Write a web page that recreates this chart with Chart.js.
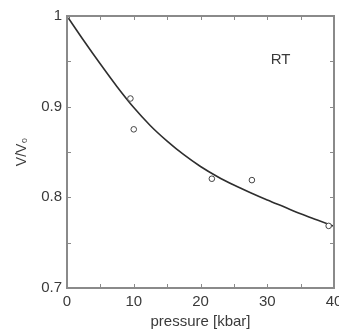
<!DOCTYPE html>
<html>
<head>
<meta charset="utf-8">
<script src="https://cdn.jsdelivr.net/npm/chart.js@4.4.1/dist/chart.umd.min.js"></script>
<style>
html,body{margin:0;padding:0;background:#fff;}
#wrap{width:339px;height:329px;position:relative;}
</style>
</head>
<body>
<div id="wrap"><canvas id="c" width="339" height="329"></canvas></div>
<script>
// Measured data (open circles)
const dataPressure = [0, 9.5, 10, 21.7, 27.7, 39.2];
const dataVolume   = [1.0, 0.909, 0.875, 0.8205, 0.819, 0.7685];
// Fit curve
const fitPressure = [0, 2.5, 5, 7.5, 10, 12.5, 15, 17.5, 20, 22.5, 25, 27.5, 30, 32.5, 35, 37.5, 40];
const fitVolume   = [1.000, 0.973, 0.947, 0.922, 0.899, 0.879, 0.862, 0.847, 0.834, 0.823, 0.8135, 0.805, 0.797, 0.7895, 0.782, 0.775, 0.768];
// Axes
const xRange = [0, 40];
const yRange = [0.7, 1.0];
const xTitle = 'pressure [kbar]';
const yTitle = 'V/V\u2080';
const annotationText = 'RT';
const annotationPos = [32, 0.952];

const fontFam = '"Liberation Sans", Arial, sans-serif';
const axisGray = '#8a8a8a';
const textCol = '#3a3a3a';

const framePlugin = {
  id: 'frame',
  afterDatasetsDraw(chart) {
    const {ctx, chartArea: a, scales: {x, y}} = chart;
    ctx.save();
    ctx.strokeStyle = axisGray;
    ctx.lineWidth = 2;
    ctx.strokeRect(a.left, a.top, a.right - a.left, a.bottom - a.top);
    ctx.lineWidth = 1;
    ctx.beginPath();
    const tl = 4;
    for (let v = xRange[0] + 5; v < xRange[1]; v += 5) {
      const px = Math.round(x.getPixelForValue(v)) + 0.5;
      ctx.moveTo(px, a.bottom); ctx.lineTo(px, a.bottom - tl);
      ctx.moveTo(px, a.top); ctx.lineTo(px, a.top + tl);
    }
    for (let i = 1; i < 6; i++) {
      const v = yRange[0] + i * 0.05;
      const py = Math.round(y.getPixelForValue(v)) + 0.5;
      ctx.moveTo(a.left, py); ctx.lineTo(a.left + tl, py);
      ctx.moveTo(a.right, py); ctx.lineTo(a.right - tl, py);
    }
    ctx.stroke();
    ctx.fillStyle = textCol;
    ctx.font = '15px ' + fontFam;
    ctx.textAlign = 'center';
    ctx.textBaseline = 'middle';
    ctx.fillText(annotationText, x.getPixelForValue(annotationPos[0]), y.getPixelForValue(annotationPos[1]));
    ctx.restore();
  }
};

new Chart(document.getElementById('c'), {
  type: 'scatter',
  data: {
    datasets: [
      {
        label: 'fit',
        data: fitPressure.map((p, i) => ({x: p, y: fitVolume[i]})),
        showLine: true,
        borderColor: '#2e2e2e',
        borderWidth: 1.6,
        pointRadius: 0,
        cubicInterpolationMode: 'monotone',
        order: 2
      },
      {
        label: 'data',
        data: dataPressure.map((p, i) => ({x: p, y: dataVolume[i]})),
        showLine: false,
        pointRadius: 2.8,
        pointBorderWidth: 1,
        pointBorderColor: '#444',
        pointBackgroundColor: '#fff',
        order: 1
      }
    ]
  },
  options: {
    responsive: false,
    animation: false,
    events: [],
    layout: {padding: {left: 0, right: 4, top: 16, bottom: 0}},
    plugins: {legend: {display: false}, tooltip: {enabled: false}},
    scales: {
      x: {
        type: 'linear', min: xRange[0], max: xRange[1],
        grid: {display: false, drawTicks: false},
        border: {display: false},
        ticks: {
          stepSize: 10, padding: 5, color: textCol, maxRotation: 0,
          font: {size: 15, family: fontFam},
          callback: v => String(v)
        },
        title: {display: true, text: xTitle, color: textCol,
          font: {size: 15, family: fontFam, lineHeight: 1}, padding: {top: 0, bottom: 0}},
        afterFit: s => { s.height = 41; s.paddingLeft = 0; s.paddingRight = 0; }
      },
      y: {
        type: 'linear', min: yRange[0], max: yRange[1],
        grid: {display: false, drawTicks: false},
        border: {display: false},
        ticks: {
          stepSize: 0.1, padding: 5, color: textCol,
          font: {size: 15, family: fontFam},
          callback: v => String(Math.round(v * 10) / 10)
        },
        title: {display: true, text: yTitle, color: textCol,
          font: {size: 14, family: fontFam}, padding: {top: 14, bottom: 0}},
        afterFit: s => { s.width = 67; s.paddingTop = 0; s.paddingBottom = 0; }
      }
    }
  },
  plugins: [framePlugin]
});
</script>
</body>
</html>
